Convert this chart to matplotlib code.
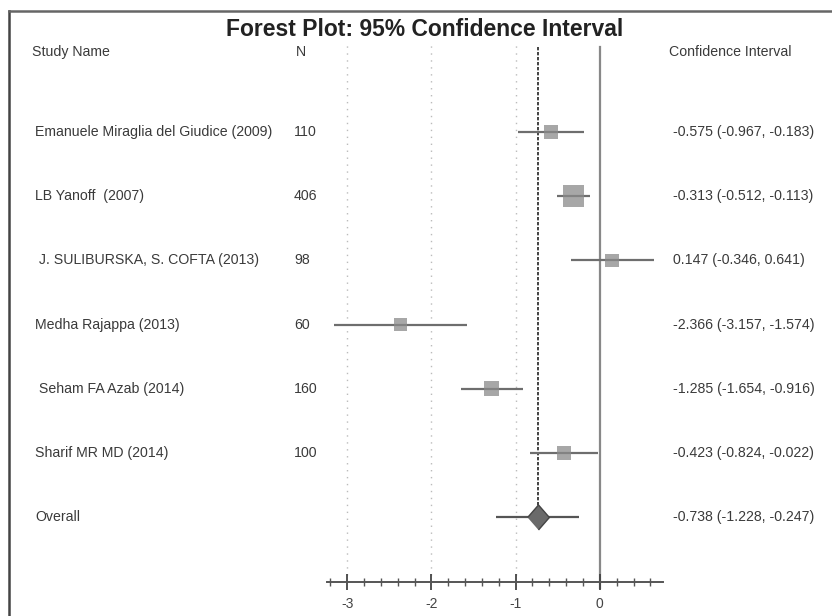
import matplotlib
matplotlib.use("Agg")
import matplotlib.pyplot as plt
import matplotlib.transforms as mtransforms
from matplotlib.lines import Line2D
from matplotlib.ticker import FixedLocator, MultipleLocator

plt.rcParams['font.family'] = ['Liberation Sans', 'DejaVu Sans']

studies = [
    "Emanuele Miraglia del Giudice (2009)",
    "LB Yanoff  (2007)",
    " J. SULIBURSKA, S. COFTA (2013)",
    "Medha Rajappa (2013)",
    " Seham FA Azab (2014)",
    "Sharif MR MD (2014)",
]
n = [110, 406, 98, 60, 160, 100]
est = [-0.575, -0.313, 0.147, -2.366, -1.285, -0.423]
lo = [-0.967, -0.512, -0.346, -3.157, -1.654, -0.824]
hi = [-0.183, -0.113, 0.641, -1.574, -0.916, -0.022]

overall_est = -0.738
overall_lo = -1.228
overall_hi = -0.247

W, H = 832, 616
fig = plt.figure(figsize=(W / 100, H / 100), dpi=100)

# plotting panel, rows counted downwards from the first study
ax = fig.add_axes([327 / W, 1 - 582 / H, 336 / W, (582 - 44) / H])
ax.set_xlim(-3.24, 0.75)
ax.set_ylim(7.009, -1.371)
for s in ['top', 'left', 'right']:
    ax.spines[s].set_visible(False)
ax.spines['bottom'].set_color('#555555')
ax.spines['bottom'].set_linewidth(1.4)
ax.yaxis.set_visible(False)
ax.xaxis.set_major_locator(FixedLocator([-3, -2, -1, 0]))
ax.xaxis.set_minor_locator(MultipleLocator(0.2))
ax.tick_params(axis='x', which='major', direction='inout', length=11, width=1.3,
               color='#444444', labelsize=10, labelcolor='#444444', pad=5)
ax.tick_params(axis='x', which='minor', direction='inout', length=6, width=1.0,
               color='#555555')
ax.set_xticklabels(['-3', '-2', '-1', '0'])

for g in [-3, -2, -1]:
    ax.axvline(g, color='#bbbbbb', lw=1, ls=(0, (1, 4)), zorder=0)
ax.axvline(0, ymin=-0.012, ymax=0.995, color='#888888', lw=1.6, clip_on=False, zorder=1)
ax.vlines(overall_est, -1.33, len(studies), colors='#222222', lw=1.2,
          linestyles=(0, (2, 1)), zorder=2)

rows = list(range(len(studies)))
ax.hlines(rows, lo, hi, colors='#6e6e6e', lw=1.6, zorder=3)
sizes = [((11 + 0.027 * k) * 0.72) ** 2 for k in n]
ax.scatter(est, rows, s=sizes, marker='s', color='#8a8a8a', alpha=0.75,
           edgecolors='none', zorder=4)

ov_row = len(studies)
ax.hlines(ov_row, overall_lo, overall_hi, colors='#555555', lw=1.6, zorder=3)
diamond = [(-1, 0), (0, 1.15), (1, 0), (0, -1.15)]
ax.plot([overall_est], [ov_row], marker=diamond, markersize=18, color='#6a6a6a',
        markeredgecolor='#444444', markeredgewidth=1, zorder=4)

# text columns, x in figure pixels, y in row units
tr = mtransforms.blended_transform_factory(fig.transFigure, ax.transData)
txt = dict(fontsize=10.2, color='#3a3a3a', va='center', transform=tr, clip_on=False)
head_row = -1.25

ax.text(32 / W, head_row, "Study Name", **txt)
ax.text(296 / W, head_row, "N", **txt)
ax.text(669 / W, head_row, "Confidence Interval", **txt)

for i, name in enumerate(studies):
    ax.text(35 / W, i, name, **txt)
    ax.text(294 / W, i, str(n[i]), **txt)
    ax.text(673 / W, i, f"{est[i]:.3f} ({lo[i]:.3f}, {hi[i]:.3f})", **txt)

ax.text(35 / W, ov_row, "Overall", **txt)
ax.text(673 / W, ov_row, f"{overall_est:.3f} ({overall_lo:.3f}, {overall_hi:.3f})", **txt)

fig.text(425 / W, 1 - 29 / H, "Forest Plot: 95% Confidence Interval", fontsize=16.5,
         fontweight='bold', color='#222222', ha='center', va='center')

# outer frame (left and top edges)
fig.add_artist(Line2D([9 / W, 9 / W], [1 - 11 / H, 0], color='#444444', lw=1.8))
fig.add_artist(Line2D([9 / W, 1], [1 - 11 / H, 1 - 11 / H], color='#666666', lw=1.8))

fig.savefig("out.png", dpi=100)
